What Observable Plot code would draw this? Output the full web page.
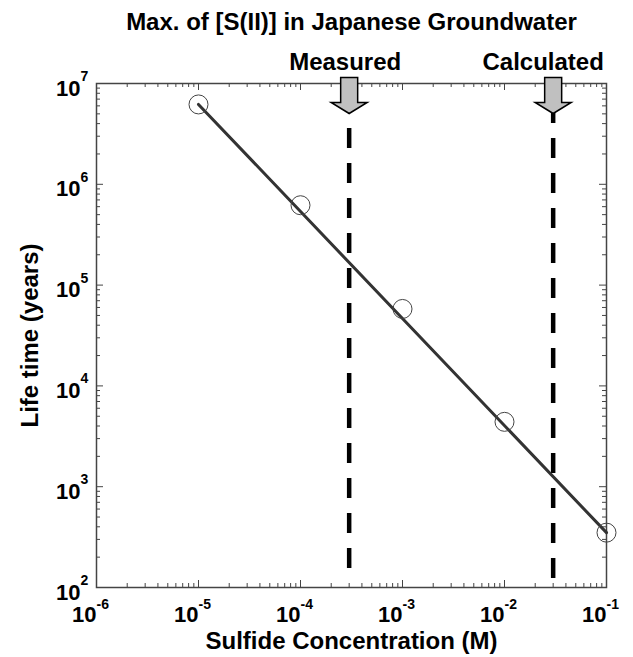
<!DOCTYPE html>
<html><head><meta charset="utf-8">
<script src="https://cdn.jsdelivr.net/npm/d3@7"></script>
<script src="https://cdn.jsdelivr.net/npm/@observablehq/plot@0.6"></script>
<style>html,body{margin:0;padding:0;background:#fff}</style>
</head><body><div id="chart"></div>
<script>
// ---- data ----
const concentration = [1e-5, 1e-4, 1e-3, 1e-2, 1e-1];
const lifetime = [6.2e6, 6.2e5, 5.8e4, 4.4e3, 3.5e2];
const fitX = [1e-5, 1e-1];
const fitY = [6.2e6, 3.5e2];
const markerX = [3e-4, 3e-2];
const markerLabels = ["Measured", "Calculated"];
const xTicks = [1e-6, 1e-5, 1e-4, 1e-3, 1e-2, 1e-1];
const xExponents = ["-6", "-5", "-4", "-3", "-2", "-1"];
const yTicks = [1e2, 1e3, 1e4, 1e5, 1e6, 1e7];
const yExponents = ["2", "3", "4", "5", "6", "7"];
const title = "Max. of [S(II)] in Japanese Groundwater";
const xTitle = "Sulfide Concentration (M)";
const yTitle = "Life time (years)";

const minor = (majors) => majors.slice(0, -1).flatMap(p => [2,3,4,5,6,7,8,9].map(m => m * p));
const xMinor = minor(xTicks);
const yMinor = minor(yTicks);

const points = concentration.map((x, i) => ({x, y: lifetime[i]}));
const fit = fitX.map((x, i) => ({x, y: fitY[i]}));

const W = 633, H = 657, mt = 83, mb = 70, ml = 96, mr = 27;
const fh = H - mt - mb, fw = W - ml - mr;
const major = 7, minorLen = 4;
const font = "'Liberation Sans', Arial, Helvetica, sans-serif";
const axisColor = "#444";

const blockArrow = {
  draw(ctx) {
    ctx.moveTo(-8.5, -6); ctx.lineTo(8.5, -6); ctx.lineTo(8.5, 19);
    ctx.lineTo(18, 19); ctx.lineTo(0, 30); ctx.lineTo(-18, 19);
    ctx.lineTo(-8.5, 19); ctx.closePath();
  }
};

const bold = {fontWeight: "bold", fill: "#000", lineAnchor: "middle"};

const chart = Plot.plot({
  width: W, height: H,
  marginTop: mt, marginBottom: mb, marginLeft: ml, marginRight: mr,
  style: {fontFamily: font, background: "#fff"},
  x: {type: "log", domain: [1e-6, 1e-1], axis: null},
  y: {type: "log", domain: [1e2, 1e7], axis: null},
  marks: [
    // ticks (inward, all four sides)
    Plot.tickX(xTicks, {x: d => d, insetTop: fh - major, stroke: axisColor}),
    Plot.tickX(xTicks, {x: d => d, insetBottom: fh - major, stroke: axisColor}),
    Plot.tickX(xMinor, {x: d => d, insetTop: fh - minorLen, stroke: axisColor}),
    Plot.tickX(xMinor, {x: d => d, insetBottom: fh - minorLen, stroke: axisColor}),
    Plot.tickY(yTicks, {y: d => d, insetRight: fw - major, stroke: axisColor}),
    Plot.tickY(yTicks, {y: d => d, insetLeft: fw - major, stroke: axisColor}),
    Plot.tickY(yMinor, {y: d => d, insetRight: fw - minorLen, stroke: axisColor}),
    Plot.tickY(yMinor, {y: d => d, insetLeft: fw - minorLen, stroke: axisColor}),
    Plot.frame({stroke: axisColor, strokeWidth: 1.5}),
    // dashed markers
    Plot.ruleX([markerX[0]], {x: d => d, insetTop: 45, insetBottom: 4, stroke: "#000", strokeWidth: 4.5, strokeDasharray: "20,15"}),
    Plot.ruleX([markerX[1]], {x: d => d, insetTop: 20, insetBottom: 0, stroke: "#000", strokeWidth: 4.5, strokeDasharray: "20,15"}),
    // fit line and points
    Plot.line(fit, {x: "x", y: "y", stroke: "#333", strokeWidth: 3}),
    Plot.dot(points, {x: "x", y: "y", r: 9.5, stroke: "#444", strokeWidth: 1, fill: "none"}),
    // arrows
    Plot.dot(markerX, {x: d => d, frameAnchor: "top", symbol: blockArrow, r: 10, fill: "#c0c0c0", stroke: "#000", strokeWidth: 1.5}),
    Plot.text([markerX[0]], {x: d => d, frameAnchor: "top", text: () => markerLabels[0], textAnchor: "middle", dx: -4, dy: -21, fontSize: 24, ...bold}),
    Plot.text([markerX[1]], {x: d => d, frameAnchor: "top", text: () => markerLabels[1], textAnchor: "middle", dx: -10, dy: -21, fontSize: 24, ...bold}),
    // tick labels
    Plot.text(xTicks, {x: d => d, frameAnchor: "bottom", text: () => "10", textAnchor: "end", dx: 0, dy: 27, fontSize: 22, ...bold}),
    Plot.text(xTicks, {x: d => d, frameAnchor: "bottom", text: (d, i) => xExponents[i], textAnchor: "start", dx: 0, dy: 17, fontSize: 14, ...bold}),
    Plot.text(yTicks, {y: d => d, frameAnchor: "left", text: () => "10", textAnchor: "end", dx: -16, dy: 5, fontSize: 22, ...bold}),
    Plot.text(yTicks, {y: d => d, frameAnchor: "left", text: (d, i) => yExponents[i], textAnchor: "start", dx: -16, dy: -7, fontSize: 14, ...bold}),
    // titles
    Plot.text([title], {frameAnchor: "top", text: d => d, textAnchor: "middle", dy: -61, fontSize: 24, ...bold}),
    Plot.text([xTitle], {frameAnchor: "bottom", text: d => d, textAnchor: "middle", dy: 54, fontSize: 24, ...bold}),
    Plot.text([yTitle], {frameAnchor: "left", text: d => d, textAnchor: "middle", rotate: -90, dx: -66, fontSize: 24, ...bold})
  ]
});
document.getElementById("chart").appendChild(chart);
</script>
</body></html>
